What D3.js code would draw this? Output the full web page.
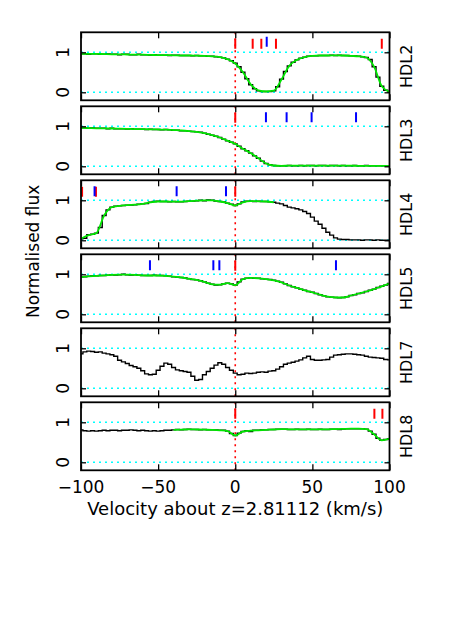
<!DOCTYPE html>
<html><head><meta charset="utf-8">
<script src="https://cdn.jsdelivr.net/npm/d3@7"></script>
<style>
body{margin:0;background:#fff}
svg{display:block}
text{font-family:"DejaVu Sans",sans-serif;fill:#000}
</style>
</head><body>
<svg id="c" width="450" height="636"></svg>
<script>
// ---------------- DATA ----------------
const velocity = [-100,-97.5,-95,-92.5,-90,-87.5,-85,-82.5,-80,-77.5,-75,-72.5,-70,-67.5,-65,-62.5,-60,-57.5,-55,-52.5,-50,-47.5,-45,-42.5,-40,-37.5,-35,-32.5,-30,-27.5,-25,-22.5,-20,-17.5,-15,-12.5,-10,-7.5,-5,-2.5,0,2.5,5,7.5,10,12.5,15,17.5,20,22.5,25,27.5,30,32.5,35,37.5,40,42.5,45,47.5,50,52.5,55,57.5,60,62.5,65,67.5,70,72.5,75,77.5,80,82.5,85,87.5,90,92.5,95,97.5,100];
const fitVelocity = [-100,-95,-90,-85,-80,-75,-70,-65,-60,-55,-50,-45,-40,-35,-30,-25,-20,-15,-10,-5,0,5,10,15,20,25,30,35,40,45,50,55,60,65,70,75,80,85,90,95,100];
const hdl4FitVelocity = [-100,-95,-90,-85,-80,-75,-70,-65,-60,-55,-50,-45,-40,-35,-30,-25,-20,-15,-10,-5,0,5,10,15,20,25];
const hdl8FitVelocity = [-40,-35,-30,-25,-20,-15,-10,-5,0,5,10,15,20,25,30,35,40,45,50,55,60,65,70,75,80,85,90,95,100];

const hdl2Flux = [.96,.96,.95,.96,.96,.95,.95,.96,.95,.95, .94,.95,.95,.94,.94,.95,.94,.94,.93,.94, .93,.93,.93,.92,.93,.93,.92,.92,.92,.91, .92,.91,.91,.90,.90,.89,.88,.86,.83,.79, .73,.64,.50,.34,.19,.09,.04,.02,.02,.02, .04,.14,.33,.52,.66,.75,.81,.85,.88,.90, .91,.91,.92,.92,.92,.93,.92,.93,.92,.92, .91,.91,.90,.89,.87,.82,.64,.38,.15,.05, .01];
const hdl3Flux = [.96,.96,.95,.96,.95,.95,.95,.94,.95,.94, .94,.94,.93,.94,.93,.93,.93,.92,.93,.92, .92,.91,.92,.91,.90,.90,.89,.89,.88,.87, .86,.85,.83,.80,.78,.75,.72,.68,.64,.60, .56,.50,.44,.39,.33,.26,.20,.13,.07,.04, .02,.01,.01,.01,.02,.01,.01,.02,.01,.02, .02,.01,.02,.02,.01,.02,.02,.01,.02,.01, .01,.02,.01,.01,.02,.01,.01,.01,.01,.01, .01];
const hdl4Flux = [.04,.05,.14,.15,.18,.32,.62,.76,.83,.85, .86,.87,.88,.88,.89,.90,.91,.92,.95,.97, .98,.97,.97,.96,.97,.96,.96,.97,.98,.98, .99,1.00,.99,1.01,1.00,.98,.97,.96,.93,.90, .87,.91,.96,.98,.98,.97,.98,.97,.97,.96, .95,.93,.91,.87,.83,.81,.79,.76,.72,.67, .58,.48,.40,.30,.20,.13,.06,.03,.02,.02, .01,.01,.01,.00,.01,.01,.00,.01,.00,.00, .00];
const hdl5Flux = [.93,.94,.95,.96,.96,.97,.97,.98,.99,.98, .99,1.00,.99,.98,.99,.98,.97,.97,.97,.98, .97,.97,.96,.95,.94,.93,.92,.91,.89,.87, .86,.84,.81,.78,.75,.73,.74,.76,.78,.76, .73,.81,.88,.90,.91,.90,.90,.89,.88,.87, .85,.83,.80,.76,.72,.69,.66,.63,.60,.57, .55,.52,.49,.46,.44,.43,.42,.41,.42,.44, .47,.49,.52,.54,.57,.60,.63,.67,.70,.73, .77];
const hdl7Flux = [.86,.91,.93,.92,.90,.91,.88,.86,.84,.80, .70,.66,.62,.57,.54,.50,.44,.36,.34,.35, .45,.55,.63,.60,.52,.46,.44,.42,.40,.30, .20,.22,.34,.42,.50,.58,.64,.60,.52,.45, .38,.34,.35,.38,.37,.38,.40,.41,.40,.43, .44,.48,.54,.60,.63,.65,.68,.71,.76,.80, .72,.70,.70,.71,.72,.78,.83,.84,.85,.86, .86,.85,.84,.83,.80,.78,.77,.76,.75,.72, .71];
const hdl8Flux = [.81,.79,.78,.79,.78,.79,.80,.79,.80,.80, .79,.80,.80,.81,.80,.79,.80,.79,.78,.79, .78,.79,.80,.80,.81,.82,.81,.82,.83,.82, .82,.81,.82,.81,.81,.81,.80,.80,.78,.72, .67,.73,.77,.79,.77,.80,.80,.81,.81,.82, .82,.83,.83,.83,.82,.82,.83,.82,.82,.83, .82,.82,.83,.82,.82,.83,.83,.82,.83,.84, .84,.84,.84,.84,.83,.78,.70,.60,.55,.57, .59];

const hdl2Fit = [.96,.96,.96,.955,.95,.95,.945,.94,.94,.935, .93,.93,.925,.92,.92,.915,.91,.90,.88,.83, .72,.50,.20,.05,.02,.04,.32,.66,.81,.88, .91,.92,.92,.925,.92,.91,.90,.87,.64,.15,.01];
const hdl3Fit = [.96,.955,.95,.948,.945,.94,.935,.93,.928,.925, .92,.915,.905,.895,.88,.86,.83,.78,.72,.64, .56,.44,.33,.20,.07,.02,.012,.015,.015,.015, .015,.015,.015,.015,.015,.015,.012,.012,.01,.01,.01];
const hdl4Fit = [.04,.13,.18,.62,.83,.86,.88,.89,.91,.95, .97,.97,.965,.965,.98,.99,1.0,1.0,.97,.93, .87,.95,.98,.975,.97,.95];
const hdl5Fit = [.93,.95,.96,.975,.985,.99,.99,.985,.975,.97, .97,.96,.94,.92,.89,.86,.81,.75,.74,.78, .73,.88,.91,.90,.88,.85,.80,.72,.66,.60, .55,.49,.44,.42,.42,.47,.52,.57,.63,.70,.77];
const hdl8Fit = [.81,.815,.825,.82,.815,.81,.80,.78,.67,.77, .79,.80,.81,.82,.83,.825,.825,.825,.825,.825, .825,.83,.835,.84,.84,.83,.70,.55,.59];

const hdl2Red = [0, 11.3, 16.9, 26.4, 95];   const hdl2Blue = [20.4];
const hdl3Red = [0];                          const hdl3Blue = [19.9, 33.3, 49.5, 78.3];
const hdl4Red = [-99.3, -90.3, 0];            const hdl4Blue = [-91.2, -38, -6];
const hdl5Red = [0];                          const hdl5Blue = [-55.3, -14.2, -10.3, 65.3];
const hdl7Red = [];                           const hdl7Blue = [];
const hdl8Red = [0, 90.2, 95.4];              const hdl8Blue = [];

const panelNames = ["HDL2","HDL3","HDL4","HDL5","HDL7","HDL8"];
const xTickValues = [-100, -50, 0, 50, 100];
const yTickValues = [0, 1];
const xTitle = "Velocity about z=2.81112 (km/s)";
const yTitle = "Normalised flux";

// ---------------- DRAW ----------------
const panels = [
  {name:panelNames[0], flux:hdl2Flux, fitV:fitVelocity, fit:hdl2Fit, red:hdl2Red, blue:hdl2Blue},
  {name:panelNames[1], flux:hdl3Flux, fitV:fitVelocity, fit:hdl3Fit, red:hdl3Red, blue:hdl3Blue},
  {name:panelNames[2], flux:hdl4Flux, fitV:hdl4FitVelocity, fit:hdl4Fit, red:hdl4Red, blue:hdl4Blue},
  {name:panelNames[3], flux:hdl5Flux, fitV:fitVelocity, fit:hdl5Fit, red:hdl5Red, blue:hdl5Blue},
  {name:panelNames[4], flux:hdl7Flux, fitV:null, fit:null, red:hdl7Red, blue:hdl7Blue},
  {name:panelNames[5], flux:hdl8Flux, fitV:hdl8FitVelocity, fit:hdl8Fit, red:hdl8Red, blue:hdl8Blue}
];

const svg = d3.select("#c");
const left = 81, right = 389.5, top0 = 32.3, panelH = 68, panelStep = 74;
const x = d3.scaleLinear().domain([-100, 100]).range([left, right]);

panels.forEach((p, i) => {
  const t = top0 + i * panelStep;
  const y = d3.scaleLinear().domain([-0.2, 1.5]).range([t + panelH, t]);
  const g = svg.append("g");
  const clipId = "clip" + i;
  svg.append("clipPath").attr("id", clipId).append("rect")
    .attr("x", left).attr("y", t).attr("width", right - left).attr("height", panelH);
  const inner = g.append("g").attr("clip-path", `url(#${clipId})`);

  // cyan dotted reference lines
  inner.selectAll("line.ref").data(yTickValues).join("line")
    .attr("x1", left).attr("x2", right)
    .attr("y1", d => y(d)).attr("y2", d => y(d))
    .attr("stroke", "#00ffff").attr("stroke-width", 1.6).attr("stroke-dasharray", "2,4");

  // red dotted zero-velocity line
  inner.append("line").attr("x1", x(0)).attr("x2", x(0)).attr("y1", t).attr("y2", t + panelH)
    .attr("stroke", "#ff0000").attr("stroke-width", 1.6).attr("stroke-dasharray", "2,4");

  // spectrum histogram
  const step = d3.line().x((d, k) => x(velocity[k])).y(d => y(d)).curve(d3.curveStep);
  inner.append("path").datum(p.flux).attr("d", step)
    .attr("fill", "none").attr("stroke", "#000").attr("stroke-width", 1.4);

  // fit
  if (p.fit) {
    const fl = d3.line().x((d, k) => x(p.fitV[k])).y(d => y(d)).curve(d3.curveMonotoneX);
    inner.append("path").datum(p.fit).attr("d", fl)
      .attr("fill", "none").attr("stroke", "#00e600").attr("stroke-width", 1.8);
  }

  // component markers
  inner.selectAll("line.red").data(p.red).join("line")
    .attr("x1", d => x(d)).attr("x2", d => x(d))
    .attr("y1", y(1.09)).attr("y2", y(1.34))
    .attr("stroke", "#ff0000").attr("stroke-width", 2);
  inner.selectAll("line.blue").data(p.blue).join("line")
    .attr("x1", d => x(d)).attr("x2", d => x(d))
    .attr("y1", y(i === 0 ? 1.14 : 1.1)).attr("y2", y(i === 0 ? 1.39 : 1.35))
    .attr("stroke", "#0000ff").attr("stroke-width", 2);

  // axes (ticks inside, no labels except bottom)
  const bottomAxis = d3.axisBottom(x).tickValues(xTickValues).tickSize(-6).tickFormat("");
  const topAxis = d3.axisTop(x).tickValues(xTickValues).tickSize(-6).tickFormat("");
  const leftAxis = d3.axisLeft(y).tickValues(yTickValues).tickSize(-5).tickFormat("");
  const rightAxis = d3.axisRight(y).tickValues(yTickValues).tickSize(-5).tickFormat("");
  [[bottomAxis, `translate(0,${t + panelH})`], [topAxis, `translate(0,${t})`],
   [leftAxis, `translate(${left},0)`], [rightAxis, `translate(${right},0)`]].forEach(([ax, tr]) => {
    const a = g.append("g").attr("transform", tr).call(ax);
    a.select(".domain").remove();
    a.selectAll(".tick line").attr("stroke", "#000").attr("stroke-width", 1.3);
  });

  // frame
  g.append("rect").attr("x", left).attr("y", t).attr("width", right - left).attr("height", panelH)
    .attr("fill", "none").attr("stroke", "#000").attr("stroke-width", 1.8);

  // y tick labels (rotated)
  yTickValues.forEach(v => {
    g.append("text").attr("transform", `translate(68.5,${y(v)}) rotate(-90)`)
      .attr("text-anchor", "middle").attr("font-size", 17).text(String(v));
  });

  // panel name
  g.append("text").attr("transform", `translate(412,${t + panelH / 2}) rotate(-90)`)
    .attr("text-anchor", "middle").attr("font-size", 16).text(p.name);
});

// x tick labels
const lastBottom = top0 + 5 * panelStep + panelH;
svg.selectAll("text.xt").data(xTickValues).join("text")
  .attr("x", d => x(d)).attr("y", 493)
  .attr("text-anchor", "middle").attr("font-size", 17)
  .text(d => d < 0 ? "\u2212" + Math.abs(d) : String(d));

svg.append("text").attr("x", (left + right) / 2).attr("y", 515)
  .attr("text-anchor", "middle").attr("font-size", 18).text(xTitle);

svg.append("text").attr("transform", `translate(39,${(top0 + lastBottom) / 2}) rotate(-90)`)
  .attr("text-anchor", "middle").attr("font-size", 17).text(yTitle);
</script>
</body></html>
